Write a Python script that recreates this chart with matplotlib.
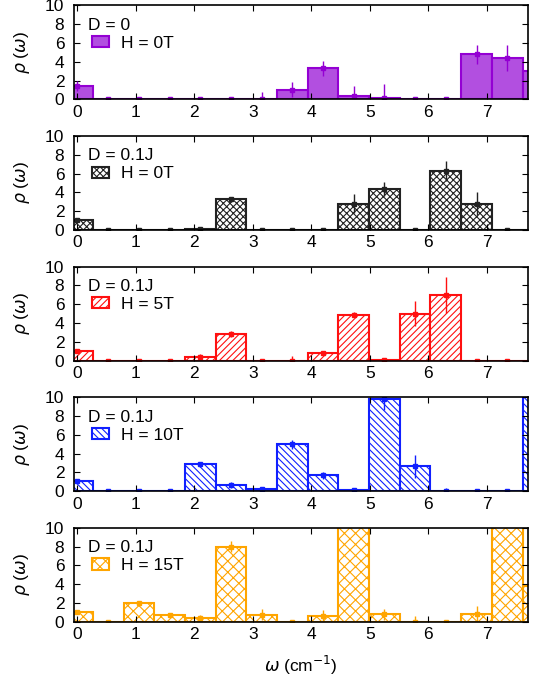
import numpy as np
import matplotlib
matplotlib.use("Agg")
import matplotlib.pyplot as plt
from matplotlib.patches import Patch

plt.rcParams['font.family'] = ['Liberation Sans', 'DejaVu Sans']
plt.rcParams['font.size'] = 12.5
plt.rcParams['hatch.linewidth'] = 0.8

# bin centres (cm^-1)
omega = [0.0, 0.525, 1.05, 1.575, 2.1, 2.625, 3.15, 3.675, 4.2, 4.725,
         5.25, 5.775, 6.3, 6.825, 7.35, 7.875]
bin_width = 0.525

# D = 0, H = 0T
rho_d0_h0 = [1.4, 0, 0, 0, 0, 0, 0, 1.0, 3.3, 0.3, 0.1, 0, 0.05, 4.8, 4.4, 3.0]
err_d0_h0 = [0.5, 0, 0, 0, 0, 0, 0.8, 0.8, 0.8, 1.1, 1.5, 0, 0, 1.0, 1.4, 0]
# D = 0.1J, H = 0T
rho_d01_h0 = [1.0, 0, 0, 0, 0.05, 3.25, 0, 0, 0, 2.8, 4.35, 0, 6.25, 2.8, 0, 0]
err_d01_h0 = [0.2, 0, 0, 0, 0, 0.3, 0, 0, 0, 1.0, 0.7, 0, 1.1, 1.2, 0, 0]
# D = 0.1J, H = 5T
rho_d01_h5 = [1.05, 0, 0, 0, 0.4, 2.8, 0, 0, 0.8, 4.9, 0.1, 5.0, 7.0, 0, 0, 0]
err_d01_h5 = [0.2, 0, 0, 0, 0.3, 0.3, 0, 0.5, 0.1, 0.3, 0, 1.3, 1.9, 0, 0, 0]
# D = 0.1J, H = 10T
rho_d01_h10 = [1.1, 0, 0, 0, 2.85, 0.65, 0.2, 5.0, 1.7, 0.15, 9.8, 2.65, 0, 0, 0, 11]
err_d01_h10 = [0.2, 0, 0, 0, 0.3, 0.3, 0.3, 0.5, 0.4, 0, 1.2, 1.2, 0.3, 0, 0, 0]
# D = 0.1J, H = 15T
rho_d01_h15 = [1.0, 0, 1.95, 0.7, 0.35, 8.0, 0.75, 0, 0.65, 12, 0.8, 0, 0, 0.8, 12, 3.8]
err_d01_h15 = [0, 0, 0.3, 0.1, 0.4, 0.6, 0.6, 0, 0.6, 0, 0.6, 0.6, 0, 0.9, 0, 0]

panels = [
    ("D = 0", "H = 0T", rho_d0_h0, err_d0_h0, "#b24fe0", "#9400d3", None),
    ("D = 0.1J", "H = 0T", rho_d01_h0, err_d01_h0, "white", "#222222", "xxxxx"),
    ("D = 0.1J", "H = 5T", rho_d01_h5, err_d01_h5, "white", "#ff1010", "/////"),
    ("D = 0.1J", "H = 10T", rho_d01_h10, err_d01_h10, "white", "#1020ff", "\\\\\\\\\\"),
    ("D = 0.1J", "H = 15T", rho_d01_h15, err_d01_h15, "white", "#ffa500", "xxx"),
]

fig = plt.figure(figsize=(5.35, 6.83), dpi=100)
bottoms = [0.8546, 0.6634, 0.4720, 0.2807, 0.0897]

for (dlab, hlab, rho, err, fc, ec, hatch), b in zip(panels, bottoms):
    ax = fig.add_axes([0.1383, b, 0.848, 0.1376])
    ax.bar(omega, rho, width=bin_width, align='center', facecolor=fc,
           edgecolor=ec, hatch=hatch, linewidth=1.5)
    ax.errorbar(omega, rho, yerr=err, fmt='s', ms=3.5, color=ec, ecolor=ec,
                elinewidth=1, capsize=0)
    ax.set_xlim(-0.06, 7.70)
    ax.set_ylim(0, 10)
    ax.set_xticks(range(8))
    ax.set_yticks(range(0, 11, 2))
    ax.tick_params(direction='in', top=True, right=True, length=4.5, width=0.8)
    ax.tick_params(axis='y', pad=7)
    ax.tick_params(axis='x', pad=4)
    for s in ax.spines.values():
        s.set_linewidth(1.2)
    ax.set_ylabel(r'$\rho$ ($\omega$)', labelpad=9)
    ax.text(0.031, 0.79, dlab, transform=ax.transAxes, va='center', ha='left')
    ax.legend(handles=[Patch(facecolor=fc, edgecolor=ec, hatch=hatch, linewidth=1.5)],
              labels=[hlab], loc='center left', bbox_to_anchor=(0.04, 0.597),
              frameon=False, handlelength=1.0, handleheight=0.6,
              handletextpad=0.65, borderpad=0, borderaxespad=0)

ax.set_xlabel(r'$\omega$ (cm$^{-1}$)', labelpad=8)

fig.savefig("out.png", dpi=100)
